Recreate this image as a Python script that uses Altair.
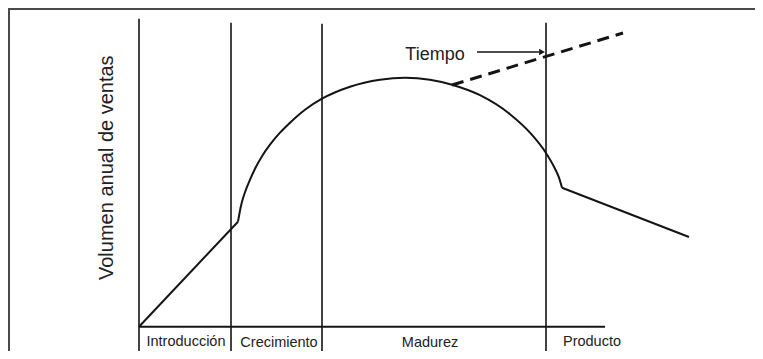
import altair as alt
import pandas as pd

# Stage boundaries on the time axis and the vertical extent of their lines
bound_t = [0, 92, 183, 407]
bound_top = [308, 304, 303, 304]
bound_bot = [-24.3, -24.3, -24.3, -24.3]

# Stage labels
stage_names = ["Introducción", "Crecimiento", "Madurez", "Producto"]
stage_t = [47, 140, 291, 453]
stage_v = [-19, -20.5, -20.5, -19]

# Sales curve: introduction ramp, rounded growth/maturity arc, decline
intro_t = [0, 99]
intro_v = [0, 105]
arc_t = [99, 102, 106, 111, 116, 123, 131, 141, 151, 166, 183, 211, 241, 266, 291, 313,
         341, 371, 391, 407, 416, 420, 423]
arc_v = [105, 121, 134.5, 147, 158, 170.5, 182, 194, 204, 217, 228, 240, 247, 249, 247, 242,
         231.5, 212.5, 194, 173.7, 158, 149, 139]
decline_t = [423, 550]
decline_v = [139, 89.7]

# Dashed extension ("Tiempo") and arrow
ext_t = [313, 484]
ext_v = [241.7, 293.7]
arrow_t = [338, 400]
arrow_v = [274.7, 274.7]
arrow_head_t = [403]
arrow_head_v = [274.7]
tiempo_t = [296]
tiempo_v = [267]

# Base line (time axis)
base_t = [0, 466]
base_v = [0, 0]

# Y title position
ytitle_t = [-26]
ytitle_v = [159]

W, H = 747, 343
xs = alt.Scale(domain=[-131, 616], nice=False, zero=False)
ys = alt.Scale(domain=[-24.3, 318.7], nice=False, zero=False)
X = lambda f="t": alt.X(f"{f}:Q", scale=xs, axis=None)
Y = lambda f="v": alt.Y(f"{f}:Q", scale=ys, axis=None)

bounds = pd.DataFrame({"t": bound_t, "top": bound_top, "bot": bound_bot})
stages = pd.DataFrame({"t": stage_t, "v": stage_v, "name": stage_names})
segs = pd.DataFrame({
    "t": intro_t + decline_t + base_t,
    "v": intro_v + decline_v + base_v,
    "seg": ["intro"] * 2 + ["decline"] * 2 + ["base"] * 2,
})
arc = pd.DataFrame({"t": arc_t, "v": arc_v})
ext = pd.DataFrame({"t": ext_t, "v": ext_v})
arrow = pd.DataFrame({"t": arrow_t, "v": arrow_v})
head = pd.DataFrame({"t": arrow_head_t, "v": arrow_head_v})
tiempo = pd.DataFrame({"t": tiempo_t, "v": tiempo_v, "label": ["Tiempo"]})
ytitle = pd.DataFrame({"t": ytitle_t, "v": ytitle_v, "label": ["Volumen anual de ventas"]})

ink = "#141414"

frame_left = alt.Chart(pd.DataFrame({"a": [0]})).mark_rule(color="#4a4a4a", strokeWidth=2).encode(
    x=alt.value(1), y=alt.value(0), y2=alt.value(H))
frame_top = alt.Chart(pd.DataFrame({"a": [0]})).mark_rule(color="#4a4a4a", strokeWidth=2).encode(
    y=alt.value(1), x=alt.value(0), x2=alt.value(W))

vrules = alt.Chart(bounds).mark_rule(color=ink, strokeWidth=1.6).encode(
    x=X(), y=Y("top"), y2="bot:Q")

lines = alt.Chart(segs).mark_line(color=ink, strokeWidth=2).encode(
    x=X(), y=Y(), detail="seg:N", order="t:Q")

arc_line = alt.Chart(arc).mark_line(color=ink, strokeWidth=2, interpolate="monotone").encode(
    x=X(), y=Y(), order="t:Q")

ext_line = alt.Chart(ext).mark_line(color=ink, strokeWidth=3, strokeDash=[12, 7]).encode(
    x=X(), y=Y())

arrow_line = alt.Chart(arrow).mark_line(color=ink, strokeWidth=1.5).encode(x=X(), y=Y())
arrow_head = alt.Chart(head).mark_point(shape="triangle-right", filled=True, color=ink,
                                        size=45, opacity=1).encode(x=X(), y=Y())

tiempo_txt = alt.Chart(tiempo).mark_text(font="Liberation Sans", fontSize=18, color="#222",
                                         align="center", baseline="alphabetic").encode(
    x=X(), y=Y(), text="label:N")

ytitle_txt = alt.Chart(ytitle).mark_text(font="Liberation Sans", fontSize=20, color="#222",
                                         align="center", baseline="alphabetic", angle=270).encode(
    x=X(), y=Y(), text="label:N")

stage_txt = alt.Chart(stages).mark_text(font="Liberation Sans", fontSize=14.5, color="#222",
                                        align="center", baseline="alphabetic").encode(
    x=X(), y=Y(), text="name:N")

chart = alt.layer(
    frame_left, frame_top, vrules, lines, arc_line, ext_line, arrow_line, arrow_head,
    tiempo_txt, ytitle_txt, stage_txt
).properties(
    width=W, height=H, autosize=alt.AutoSizeParams(type="none"), padding=0, background="white"
).configure_view(stroke=None)

chart.save("out.html", embed_options={"renderer": "svg", "actions": False})
